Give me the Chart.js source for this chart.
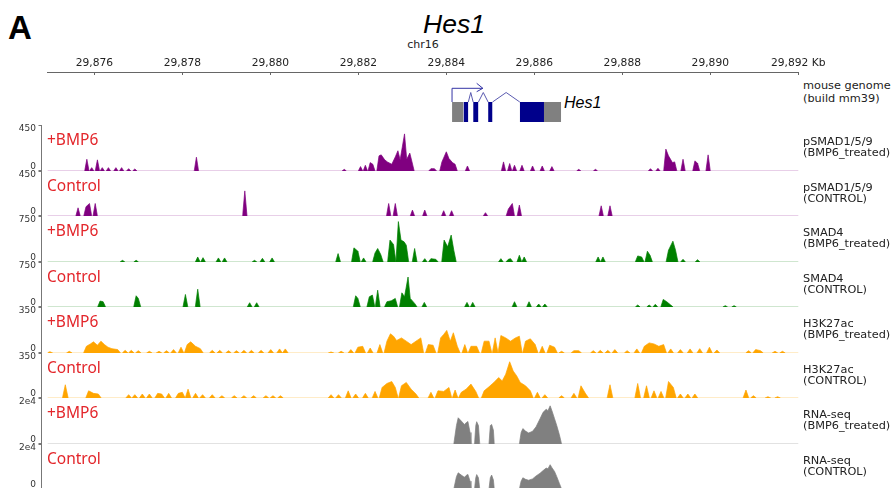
<!DOCTYPE html>
<html>
<head>
<meta charset="utf-8">
<script src="https://cdn.jsdelivr.net/npm/chart.js@4.4.1/dist/chart.umd.min.js"></script>
<style>
  html, body { margin: 0; padding: 0; background: #fff; }
  #fig { position: relative; width: 894px; height: 488px; overflow: hidden; font-family: "DejaVu Sans", sans-serif; }
  #fig canvas { position: absolute; left: 0; }
  .txt { position: absolute; white-space: nowrap; }
  .side { position: absolute; left: 803px; font-size: 11.3px; line-height: 11.6px; color: #222; white-space: nowrap; }
  .cond { position: absolute; left: 47px; font-family: "Noto Sans", sans-serif; font-size: 15.5px; line-height: 15px; color: #e3262b; white-space: nowrap; }
</style>
</head>
<body>
<div id="fig">
  <div class="txt" style="left:8px;top:11px;font:bold 33px/33px 'Liberation Sans',sans-serif;">A</div>
  <div class="txt" style="left:454px;top:11px;transform:translateX(-50%);font:italic 26.5px/26.5px 'Liberation Sans',sans-serif;">Hes1</div>
  <div class="txt" style="left:423px;top:38px;transform:translateX(-50%);font-size:11px;line-height:13px;color:#222;">chr16</div>
  <div class="side" style="top:79px;line-height:13.3px;">mouse genome<br>(build mm39)</div>
  <div class="txt" style="left:564px;top:95px;font:italic 16px/16px 'Liberation Sans',sans-serif;">Hes1</div>
</div>
<script>
// genomic window (kb on chr16)
const X_MIN = 29874.94;
const X_MAX = 29892;
const axisTicks = [29876, 29878, 29880, 29882, 29884, 29886, 29888, 29890, 29892];
const axisUnit = 'Kb';

// Hes1 gene model (kb)
const exonStart = [29884.13, 29884.39, 29884.61, 29884.95, 29885.67, 29886.22];
const exonEnd   = [29884.39, 29884.50, 29884.73, 29885.05, 29886.22, 29886.61];
const exonKind  = ['utr', 'cds', 'cds', 'cds', 'cds', 'utr'];
const intronStart = [29884.50, 29884.73, 29885.05];
const intronEnd   = [29884.61, 29884.95, 29885.67];
const tssPos = 29884.13;
const tssArrowEnd = 29884.83;

// track meta
const trackName = ['pSMAD1/5/9', 'pSMAD1/5/9', 'SMAD4', 'SMAD4', 'H3K27ac', 'H3K27ac', 'RNA-seq', 'RNA-seq'];
const trackSample = ['(BMP6_treated)', '(CONTROL)', '(BMP6_treated)', '(CONTROL)', '(BMP6_treated)', '(CONTROL)', '(BMP6_treated)', '(CONTROL)'];
const trackCondition = ['+BMP6', 'Control', '+BMP6', 'Control', '+BMP6', 'Control', '+BMP6', 'Control'];
const trackMax = [450, 450, 750, 750, 350, 350, 20000, 20000];
const trackMaxLabel = ['450', '450', '750', '750', '350', '350', '2e4', '2e4'];

// signal peaks: position (kb) and height
const psmadBmp6Pos = [29875.83, 29875.94, 29876.07, 29876.18, 29876.32, 29876.49, 29876.62, 29876.78, 29876.92, 29878.32,
  29881.68, 29882.05, 29882.16, 29882.27, 29882.33, 29882.47, 29882.52, 29882.60, 29882.66, 29882.76,
  29882.84, 29882.90, 29882.95, 29883.05, 29883.10, 29883.17, 29883.22, 29883.65, 29883.73, 29883.90,
  29884.00, 29884.06, 29884.14, 29884.20, 29884.48, 29885.30, 29885.44, 29885.55, 29885.72, 29885.96,
  29886.18, 29886.40, 29887.01, 29887.39, 29888.64, 29888.81, 29888.99, 29889.05, 29889.14, 29889.19,
  29889.38, 29889.65, 29889.71, 29889.95];
const psmadBmp6Val = [115, 33, 109, 33, 33, 33, 33, 23, 20, 135,
  16, 43, 56, 82, 66, 148, 158, 109, 89, 66,
  138, 198, 109, 363, 115, 175, 89, 23, 23, 89,
  188, 122, 82, 66, 49, 89, 73, 56, 56, 49,
  49, 43, 16, 16, 23, 26, 214, 148, 82, 89,
  115, 99, 76, 158];

const psmadCtrlPos = [29875.63, 29875.81, 29875.89, 29876.02, 29879.42, 29882.69, 29882.84, 29883.23, 29883.51, 29883.94,
  29884.12, 29884.89, 29885.41, 29885.50, 29885.66, 29887.52, 29887.72];
const psmadCtrlVal = [82, 92, 125, 125, 251, 125, 125, 59, 59, 53,
  53, 33, 69, 125, 109, 102, 102];

const smad4Bmp6Pos = [29876.64, 29876.95, 29878.35, 29878.47, 29878.82, 29878.96, 29879.64, 29879.82, 29880.04, 29881.54,
  29881.90, 29881.99, 29882.12, 29882.38, 29882.44, 29882.51, 29882.72, 29882.80, 29882.91, 29882.97,
  29883.04, 29883.09, 29883.28, 29883.51, 29883.65, 29883.76, 29883.95, 29884.03, 29884.11, 29884.17,
  29885.24, 29885.41, 29885.46, 29885.66, 29885.77, 29887.45, 29887.56, 29888.35, 29888.44, 29888.57,
  29888.63, 29889.05, 29889.15, 29889.21, 29889.38, 29889.71];
const smad4Bmp6Val = [27, 27, 82, 71, 66, 66, 27, 60, 66, 137,
  231, 176, 66, 148, 220, 121, 357, 285, 659, 357,
  329, 275, 220, 55, 55, 44, 357, 247, 439, 192,
  55, 44, 55, 110, 82, 82, 82, 99, 82, 176,
  110, 192, 340, 192, 44, 38];

const smad4CtrlPos = [29876.13, 29876.20, 29876.95, 29877.00, 29878.07, 29878.35, 29879.53, 29879.69, 29881.94, 29881.99,
  29882.25, 29882.32, 29882.44, 29882.65, 29882.75, 29882.84, 29882.99, 29883.05, 29883.13, 29883.18,
  29883.28, 29883.50, 29884.47, 29884.60, 29885.55, 29885.88, 29886.10, 29886.24, 29888.35, 29888.61,
  29888.75, 29888.93, 29889.01, 29889.10, 29890.34, 29890.54];
const smad4CtrlVal = [99, 88, 187, 143, 209, 297, 71, 71, 187, 143,
  170, 198, 280, 88, 104, 143, 236, 170, 500, 143,
  60, 77, 77, 77, 88, 88, 49, 49, 33, 33,
  44, 126, 88, 33, 22, 22];

const h3k27Bmp6Pos = [29874.99, 29875.43, 29875.82, 29875.91, 29875.98, 29876.07, 29876.15, 29876.23, 29876.31, 29876.40,
  29876.53, 29876.70, 29876.84, 29877.00, 29877.25, 29877.47, 29877.64, 29877.80, 29877.97, 29878.11,
  29878.19, 29878.30, 29878.41, 29878.68, 29878.85, 29879.05, 29879.23, 29879.40, 29879.57, 29879.79,
  29880.01, 29880.21, 29880.34, 29881.38, 29881.61, 29881.83, 29881.99, 29882.10, 29882.27, 29882.49,
  29882.65, 29882.73, 29882.80, 29882.87, 29882.98, 29883.09, 29883.20, 29883.31, 29883.42, 29883.59,
  29883.70, 29883.87, 29883.94, 29884.01, 29884.09, 29884.16, 29884.25, 29884.42, 29884.56, 29884.69,
  29884.86, 29884.97, 29885.11, 29885.24, 29885.35, 29885.46, 29885.57, 29885.66, 29885.80, 29885.91,
  29886.02, 29886.18, 29886.35, 29886.46, 29886.62, 29886.90, 29887.01, 29887.34, 29887.50, 29887.67,
  29887.83, 29888.11, 29888.33, 29888.50, 29888.61, 29888.72, 29888.83, 29888.94, 29889.10, 29889.32,
  29889.54, 29889.76, 29889.98, 29890.15, 29890.87, 29891.03, 29891.14, 29891.47, 29891.64];
const h3k27Bmp6Val = [10, 13, 51, 69, 85, 59, 90, 64, 44, 33,
  26, 20, 20, 18, 13, 13, 18, 26, 44, 64,
  85, 51, 33, 20, 20, 18, 18, 20, 20, 20,
  26, 31, 31, 8, 13, 26, 44, 51, 38, 64,
  90, 146, 128, 95, 115, 90, 64, 90, 115, 64,
  59, 115, 141, 172, 90, 154, 51, 64, 51, 51,
  90, 90, 115, 133, 115, 90, 115, 128, 90, 108,
  64, 51, 59, 44, 13, 18, 18, 18, 20, 20,
  26, 18, 31, 51, 77, 69, 51, 64, 31, 26,
  31, 33, 44, 23, 18, 26, 18, 13, 13];

const h3k27CtrlPos = [29875.34, 29875.87, 29875.98, 29876.09, 29876.78, 29876.92, 29877.09, 29877.25, 29877.44, 29877.53,
  29877.69, 29877.91, 29878.00, 29878.13, 29878.30, 29878.46, 29878.68, 29878.90, 29879.18, 29879.40,
  29879.62, 29879.90, 29880.06, 29880.23, 29881.38, 29881.55, 29881.77, 29881.94, 29882.16, 29882.38,
  29882.54, 29882.65, 29882.76, 29882.84, 29882.98, 29883.09, 29883.20, 29883.31, 29883.65, 29883.81,
  29883.94, 29884.06, 29884.20, 29884.34, 29884.45, 29884.56, 29884.67, 29884.86, 29884.97, 29885.08,
  29885.19, 29885.27, 29885.35, 29885.44, 29885.52, 29885.60, 29885.68, 29885.80, 29885.91, 29886.07,
  29886.24, 29886.62, 29886.90, 29887.06, 29887.17, 29887.72, 29888.35, 29888.55, 29888.72, 29888.88,
  29889.05, 29889.16, 29889.32, 29889.49, 29889.65, 29890.81, 29890.98, 29891.31, 29891.53];
const h3k27CtrlVal = [103, 56, 36, 31, 26, 26, 31, 31, 36, 31,
  36, 36, 44, 69, 36, 26, 26, 18, 18, 18,
  18, 18, 18, 18, 26, 26, 56, 31, 36, 51,
  82, 113, 128, 82, 95, 121, 69, 31, 44, 56,
  51, 82, 62, 44, 69, 108, 51, 56, 87, 121,
  159, 133, 185, 282, 210, 172, 121, 95, 56, 44,
  26, 18, 36, 95, 31, 103, 113, 95, 56, 51,
  128, 82, 31, 31, 31, 62, 18, 10, 10];

// RNA-seq coverage profile (kb, reads) - read as continuous profile
const rnaPos = [29884.17, 29884.23, 29884.27, 29884.34, 29884.41, 29884.45, 29884.49, 29884.54, 29884.56, 29884.64,
  29884.67, 29884.69, 29884.73, 29884.76, 29884.97, 29885.00, 29885.03, 29885.07, 29885.09, 29885.66,
  29885.70, 29885.74, 29885.80, 29885.87, 29885.96, 29886.04, 29886.13, 29886.20, 29886.27, 29886.31,
  29886.36, 29886.40, 29886.46, 29886.51, 29886.57, 29886.62];
const rnaBmp6Val = [0, 8000, 11400, 10000, 8500, 9200, 9800, 5000, 0, 0,
  8000, 9700, 8000, 0, 0, 8000, 8500, 6000, 0, 0,
  5000, 6700, 5600, 4800, 5500, 7500, 11000, 13800, 15100, 14500,
  16600, 14500, 11000, 8000, 4000, 0];
const rnaCtrlVal = [0, 5500, 7200, 6200, 5200, 6000, 6500, 3500, 0, 0,
  5000, 6400, 5000, 0, 0, 5000, 6200, 4000, 0, 0,
  3500, 5000, 4300, 3900, 4500, 5800, 7000, 8200, 9300, 9000,
  10800, 9500, 7800, 5500, 2500, 0];

const trackPos = [psmadBmp6Pos, psmadCtrlPos, smad4Bmp6Pos, smad4CtrlPos, h3k27Bmp6Pos, h3k27CtrlPos, rnaPos, rnaPos];
const trackVal = [psmadBmp6Val, psmadCtrlVal, smad4Bmp6Val, smad4CtrlVal, h3k27Bmp6Val, h3k27CtrlVal, rnaBmp6Val, rnaCtrlVal];

// styling / layout
const W = 894;
const PLOT_LEFT = 47.7;
const PLOT_RIGHT = 798.3;
const trackTops = [125, 171, 216, 262, 307, 353, 398, 444, 489];
const trackColor = ['#800080', '#800080', '#008000', '#008000', '#ffa500', '#ffa500', '#808080', '#808080'];
const baseColor = ['#e8cfe8', '#e8cfe8', '#cfe6cf', '#cfe6cf', '#ffecc8', '#ffecc8', '#e2e2e2', '#e2e2e2'];
const peakHalf = [0.05, 0.05, 0.055, 0.055, 0.065, 0.065, null, null];

Chart.defaults.font.family = 'DejaVu Sans';

const fig = document.getElementById('fig');
const pad = { left: PLOT_LEFT, right: W - PLOT_RIGHT };

function addCanvas(top, height) {
  const c = document.createElement('canvas');
  c.width = W;
  c.height = height;
  c.style.top = top + 'px';
  c.style.width = W + 'px';
  c.style.height = height + 'px';
  fig.appendChild(c);
  return c;
}

function addText(cls, top, html) {
  const d = document.createElement('div');
  d.className = cls;
  d.style.top = top + 'px';
  d.innerHTML = html;
  fig.appendChild(d);
}

// each peak is a spike down to the baseline; neighbouring peaks closer than the width join up
function peakShape(pos, val, w) {
  if (w === null) return pos.map((x, i) => ({ x: x, y: val[i] }));
  const pts = [];
  for (let i = 0; i < pos.length; i++) {
    const prev = i > 0 ? pos[i - 1] : -Infinity;
    const next = i < pos.length - 1 ? pos[i + 1] : Infinity;
    if (pos[i] - prev > 2 * w) pts.push({ x: pos[i] - w, y: 0 });
    pts.push({ x: pos[i], y: val[i] });
    if (next - pos[i] > 2 * w) pts.push({ x: pos[i] + w, y: 0 });
  }
  return pts;
}

const baseOpts = {
  responsive: false,
  animation: false,
  events: [],
  devicePixelRatio: 1,
  plugins: { legend: { display: false }, tooltip: { enabled: false } }
};

// top coordinate axis
new Chart(addCanvas(46, 30), {
  type: 'line',
  data: { datasets: [] },
  options: {
    ...baseOpts,
    layout: { padding: { left: pad.left, right: pad.right, top: 6, bottom: 1 } },
    scales: {
      x: {
        type: 'linear',
        position: 'top',
        min: X_MIN,
        max: X_MAX,
        afterBuildTicks: s => { s.ticks = axisTicks.map(v => ({ value: v })); },
        afterFit: s => { s.height = 20; },
        ticks: {
          autoSkip: false,
          maxRotation: 0,
          padding: 2,
          color: '#222',
          font: { size: 10.7 },
          callback: v => {
            const s = v.toLocaleString('en-US');
            return v === axisTicks[axisTicks.length - 1] ? s + ' ' + axisUnit : s;
          }
        },
        grid: { drawTicks: false, drawOnChartArea: true, color: '#666', lineWidth: 1 },
        border: { display: true, color: '#666', width: 1 }
      },
      y: { display: false, min: 0, max: 1 }
    }
  }
});

// gene model
const EXON_H = 2;
const geneSets = [];
for (let i = 0; i < exonStart.length; i++) {
  geneSets.push({
    data: [{ x: exonStart[i], y: EXON_H }, { x: exonEnd[i], y: EXON_H }],
    fill: { value: 0 },
    backgroundColor: exonKind[i] === 'utr' ? '#808080' : '#00008b',
    borderWidth: 0,
    pointRadius: 0
  });
}
for (let i = 0; i < intronStart.length; i++) {
  geneSets.push({
    data: [{ x: intronStart[i], y: EXON_H }, { x: (intronStart[i] + intronEnd[i]) / 2, y: EXON_H + 0.95 }, { x: intronEnd[i], y: EXON_H }],
    borderColor: '#5a5ab0',
    borderWidth: 1,
    fill: false,
    pointRadius: 0
  });
}
geneSets.push({
  data: [{ x: tssPos, y: EXON_H }, { x: tssPos, y: 3.37 }, { x: tssArrowEnd, y: 3.37 }],
  borderColor: '#3535a5', borderWidth: 1, fill: false, pointRadius: 0
});
geneSets.push({
  data: [{ x: tssArrowEnd - 0.14, y: 3.87 }, { x: tssArrowEnd, y: 3.37 }, { x: tssArrowEnd - 0.14, y: 3.03 }],
  borderColor: '#3535a5', borderWidth: 1, fill: false, pointRadius: 0
});
new Chart(addCanvas(78, 46), {
  type: 'line',
  data: { datasets: geneSets },
  options: {
    ...baseOpts,
    layout: { padding: { left: pad.left, right: pad.right, top: 4, bottom: 2 } },
    scales: {
      x: { type: 'linear', display: false, min: X_MIN, max: X_MAX },
      y: { display: false, min: 0, max: 4 }
    }
  }
});

// y axis bracket + baseline for a track
const trackAxis = {
  id: 'trackAxis',
  beforeDatasetsDraw(chart, args, opts) {
    const { ctx, chartArea: a } = chart;
    ctx.save();
    ctx.strokeStyle = opts.baseColor;
    ctx.lineWidth = 1;
    ctx.beginPath();
    ctx.moveTo(a.left, a.bottom - 0.5);
    ctx.lineTo(a.right, a.bottom - 0.5);
    ctx.stroke();
    ctx.restore();
  },
  afterDraw(chart, args, opts) {
    const { ctx, chartArea: a } = chart;
    const x = Math.round(a.left - 7) + 0.5;
    ctx.save();
    ctx.strokeStyle = '#777';
    ctx.lineWidth = 1;
    ctx.beginPath();
    ctx.moveTo(x, a.top);
    ctx.lineTo(x, a.bottom);
    ctx.moveTo(x - 3, a.top + 0.5);
    ctx.lineTo(x, a.top + 0.5);
    ctx.moveTo(x - 3, a.bottom - 0.5);
    ctx.lineTo(x, a.bottom - 0.5);
    ctx.stroke();
    ctx.fillStyle = '#333';
    ctx.font = '9px "DejaVu Sans"';
    ctx.textAlign = 'right';
    ctx.textBaseline = 'middle';
    ctx.fillText(opts.topLabel, x - 5.5, a.top + 4);
    ctx.fillText('0', x - 5.5, a.bottom - 4);
    ctx.restore();
  }
};

for (let t = 0; t < trackName.length; t++) {
  const top = trackTops[t];
  const h = trackTops[t + 1] - top;
  const col = trackColor[t];
  new Chart(addCanvas(top - 5, h + 6), {
    type: 'line',
    data: {
      datasets: [{
        data: peakShape(trackPos[t], trackVal[t], peakHalf[t]),
        fill: 'origin',
        backgroundColor: col,
        borderColor: col,
        borderWidth: 0.7,
        pointRadius: 0,
        tension: 0,
        segment: {
          borderColor: c => (c.p0.parsed.y === 0 && c.p1.parsed.y === 0) ? 'rgba(0,0,0,0)' : undefined
        }
      }]
    },
    options: {
      ...baseOpts,
      layout: { padding: { left: pad.left, right: pad.right, top: 5, bottom: 1 } },
      plugins: {
        ...baseOpts.plugins,
        trackAxis: { topLabel: trackMaxLabel[t], baseColor: baseColor[t] }
      },
      scales: {
        x: { type: 'linear', display: false, min: X_MIN, max: X_MAX },
        y: { display: false, min: 0, max: trackMax[t] }
      }
    },
    plugins: [trackAxis]
  });
  addText('cond', top + 6.5, trackCondition[t]);
  addText('side', top + 10.8, trackName[t] + '<br>' + trackSample[t]);
}
</script>
</body>
</html>
